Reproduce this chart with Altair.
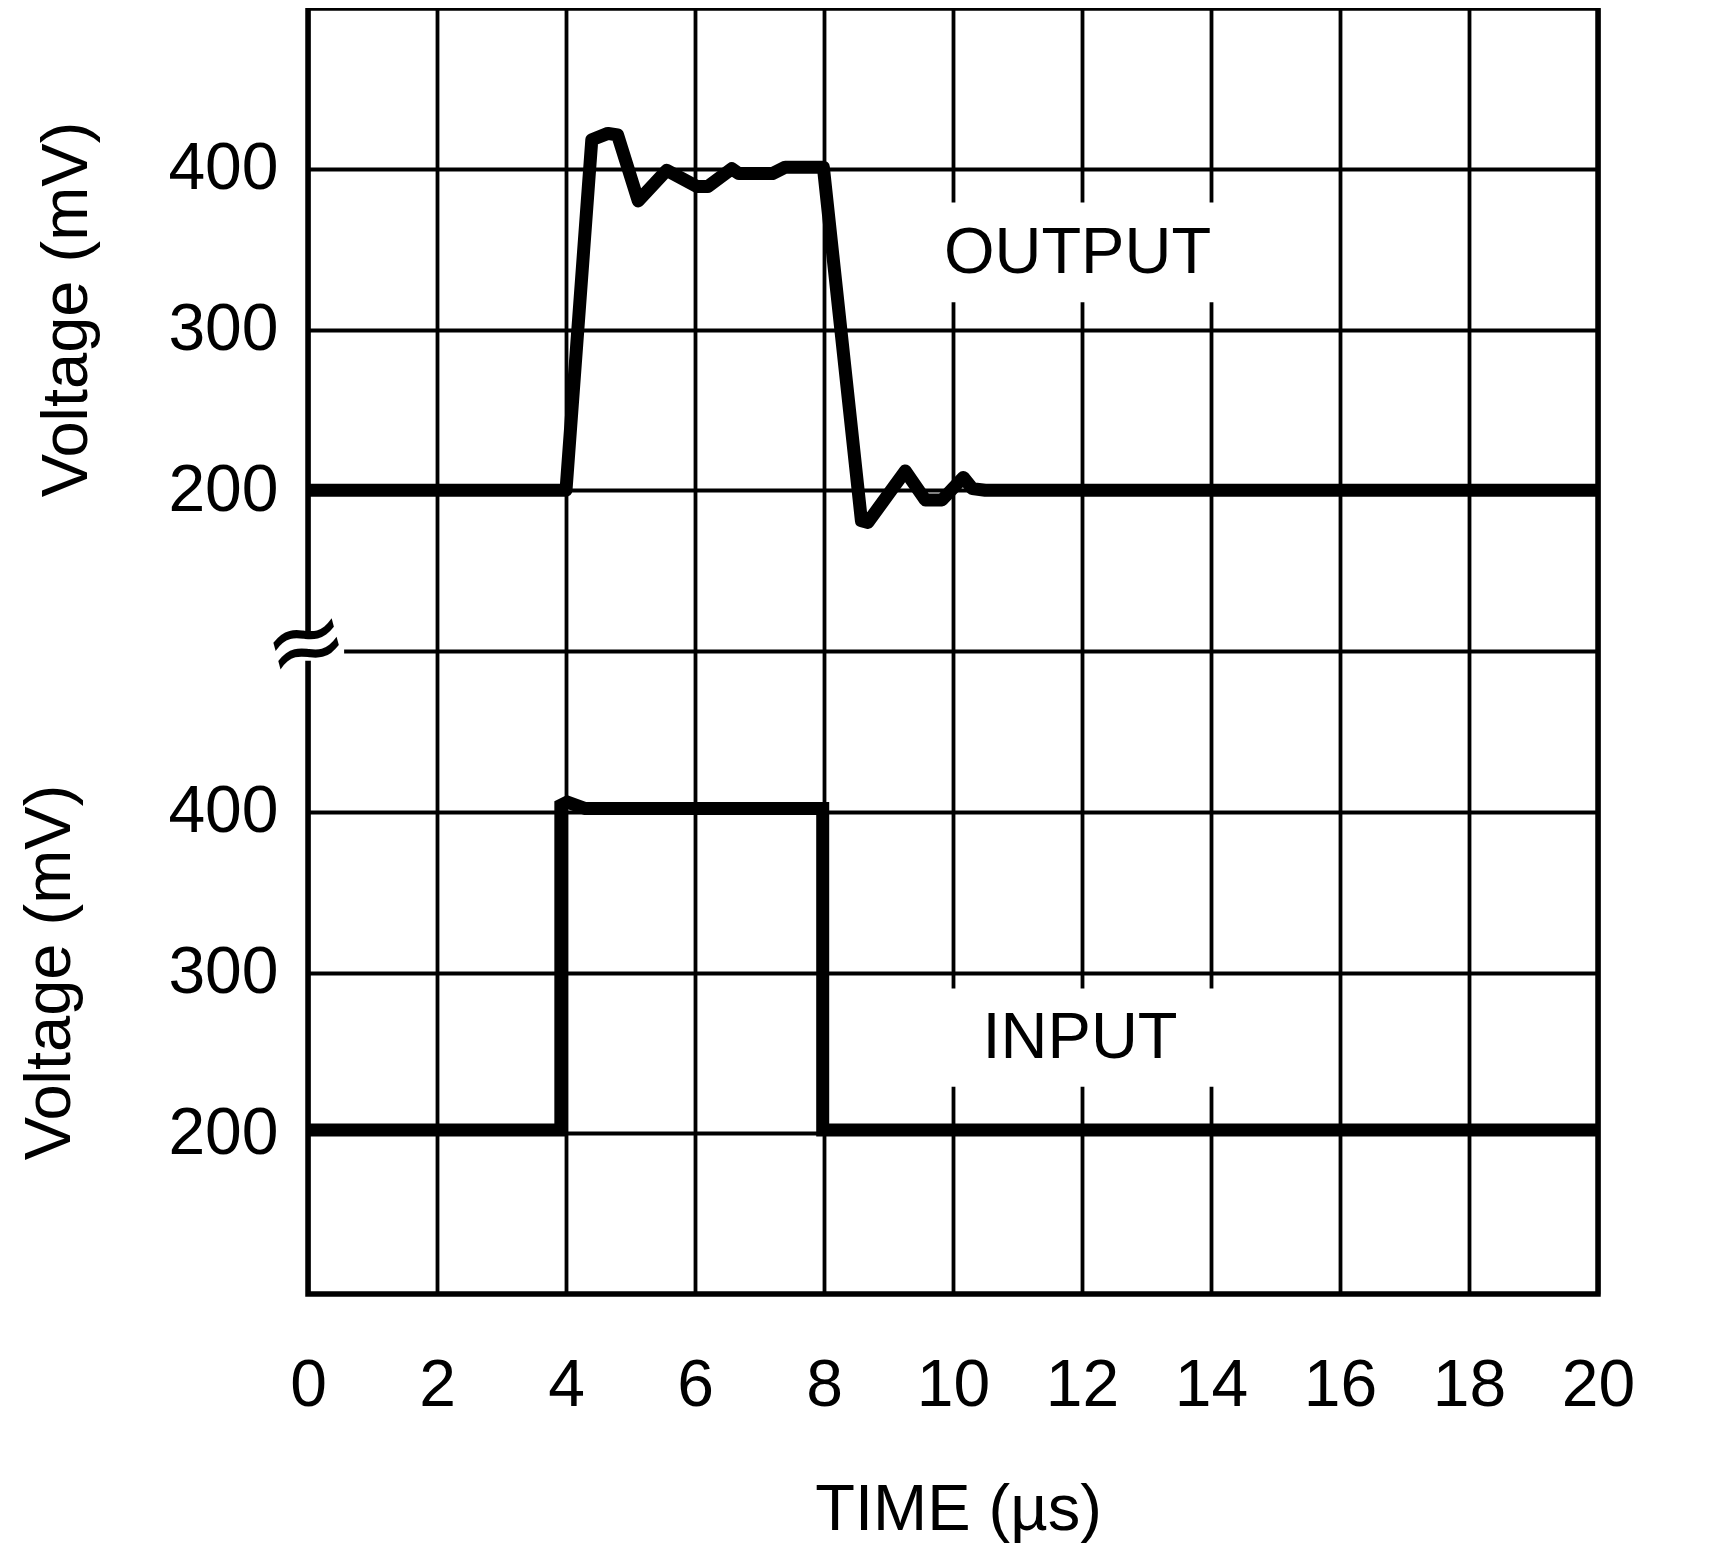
import altair as alt
import pandas as pd

FONT = "Liberation Sans, Arial, sans-serif"

# ---- data ----
time_ticks = [0, 2, 4, 6, 8, 10, 12, 14, 16, 18, 20]

out_t = [0, 4.0, 4.4, 4.65, 4.8, 5.12, 5.56, 6.03, 6.2, 6.57, 6.68, 7.2, 7.4, 7.99,
         8.58, 8.68, 9.26, 9.57, 9.83, 10.16, 10.3, 10.5, 20]
out_v = [200, 200, 418, 422, 421, 380, 399, 389, 389, 400, 397, 397, 401, 401,
         181, 180, 212, 194, 194, 208, 201, 200, 200]

in_t = [0, 3.92, 3.92, 4.02, 4.3, 7.98, 7.98, 20]
in_v = [202, 202, 404, 406, 402, 402, 202, 202]

# both panels share one grid: the upper (OUTPUT) panel sits 300 units up,
# the lower (INPUT) panel 100 units down, so each shows 100..500 mV
TOP_SHIFT = 300
BOT_SHIFT = -100
grid_values = [100, 200, 300, 400, 500, 600, 700]

out_label = ["OUTPUT"]
out_label_t = [11.93]
out_label_v = [335]
out_box = {"x0": [9.7], "x1": [14.3], "y0": [317], "y1": [379]}

in_label = ["INPUT"]
in_label_t = [11.97]
in_label_v = [247]
in_box = {"x0": [9.7], "x1": [14.3], "y0": [229], "y1": [290]}

break_t = [0]
break_v = [100]          # in upper-panel mV (the 100 mV bottom edge)
break_patch = {"x0": [-0.15], "x1": [0.56], "y0": [94], "y1": [108]}

ytitle_text = ["Voltage (mV)"]
ytitle_v = [300]         # centre of the lower panel, in lower-panel mV

# ---- tables ----
df_out = pd.DataFrame({"t": out_t, "v": out_v, "i": list(range(len(out_t)))})
df_in = pd.DataFrame({"t": in_t, "v": in_v, "i": list(range(len(in_t)))})
df_out_lab = pd.DataFrame({"t": out_label_t, "v": out_label_v, "txt": out_label})
df_in_lab = pd.DataFrame({"t": in_label_t, "v": in_label_v, "txt": in_label})
df_out_box = pd.DataFrame(out_box)
df_in_box = pd.DataFrame(in_box)
df_break = pd.DataFrame({"t": break_t, "v": break_v})
df_patch = pd.DataFrame(break_patch)
df_ytitle = pd.DataFrame({"v": ytitle_v, "txt": ytitle_text})

x_scale = alt.Scale(domain=[0, 20], nice=False, zero=False)
y_scale = alt.Scale(domain=[0, 800], nice=False, zero=False)

label_expr = ("datum.value == 100 || datum.value == 500 ? '200' : "
              "datum.value == 200 || datum.value == 600 ? '300' : "
              "datum.value == 300 || datum.value == 700 ? '400' : ''")

x_axis = alt.Axis(values=time_ticks, title="TIME (µs)", grid=True,
                  labelBaseline="alphabetic", labelPadding=111,
                  titleX=650, titleY=235, titleBaseline="alphabetic",
                  titleAlign="center", labelFlush=False)
y_axis = alt.Axis(values=grid_values, labelExpr=label_expr, grid=True,
                  title="Voltage (mV)", titleX=-222, titleY=301, titleAngle=270,
                  titleBaseline="alphabetic", titleAlign="center", labelPadding=30)


def X(field):
    return alt.X(field, scale=x_scale, axis=x_axis)


def Y(field):
    return alt.Y(field, scale=y_scale, axis=y_axis)


def shift(ch, field, amount):
    return ch.transform_calculate(**{field + "_s": f"datum.{field} + ({amount})"})


def shift_box(ch, amount):
    return ch.transform_calculate(y0_s=f"datum.y0 + ({amount})",
                                  y1_s=f"datum.y1 + ({amount})")


# ---- upper (output) panel ----
out_line = shift(alt.Chart(df_out), "v", TOP_SHIFT).mark_line(
    color="black", strokeWidth=13, strokeJoin="round", strokeCap="butt").encode(
    x=X("t:Q"), y=Y("v_s:Q"), order="i:Q")
out_bg = shift_box(alt.Chart(df_out_box), TOP_SHIFT).mark_rect(color="white").encode(
    x=X("x0:Q"), x2="x1:Q", y=Y("y0_s:Q"), y2="y1_s:Q")
out_txt = shift(alt.Chart(df_out_lab), "v", TOP_SHIFT).mark_text(
    font=FONT, fontSize=65, color="black", baseline="alphabetic", align="center").encode(
    x=X("t:Q"), y=Y("v_s:Q"), text="txt:N")
patch = shift_box(alt.Chart(df_patch), TOP_SHIFT).mark_rect(color="white").encode(
    x=X("x0:Q"), x2="x1:Q", y=Y("y0_s:Q"), y2="y1_s:Q")
tilde = shift(alt.Chart(df_break), "v", TOP_SHIFT).mark_text(
    text="≈", font="DejaVu Sans", fontSize=100, angle=345, baseline="middle",
    align="center", color="black", dy=-6).encode(
    x=X("t:Q"), y=Y("v_s:Q"))

# ---- lower (input) panel ----
in_line = shift(alt.Chart(df_in), "v", BOT_SHIFT).mark_line(
    color="black", strokeWidth=13, strokeJoin="miter", strokeCap="butt").encode(
    x=X("t:Q"), y=Y("v_s:Q"), order="i:Q")
in_bg = shift_box(alt.Chart(df_in_box), BOT_SHIFT).mark_rect(color="white").encode(
    x=X("x0:Q"), x2="x1:Q", y=Y("y0_s:Q"), y2="y1_s:Q")
in_txt = shift(alt.Chart(df_in_lab), "v", BOT_SHIFT).mark_text(
    font=FONT, fontSize=65, color="black", baseline="alphabetic", align="center").encode(
    x=X("t:Q"), y=Y("v_s:Q"), text="txt:N")
in_title = shift(alt.Chart(df_ytitle), "v", BOT_SHIFT).mark_text(
    font=FONT, fontSize=65, color="black", baseline="alphabetic", align="center",
    angle=270, dy=-5).encode(
    x=alt.value(-233), y=Y("v_s:Q"), text="txt:N")

chart = alt.layer(out_line, out_bg, out_txt, patch, tilde,
                  in_line, in_bg, in_txt, in_title).properties(
    width=1290, height=1286,
    autosize=alt.AutoSizeParams(type="none"),
    padding={"left": 300, "top": 0, "right": 122, "bottom": 250},
    background="white",
).configure_view(stroke="black", strokeWidth=5.5).configure_axis(
    gridColor="black", gridWidth=3.8, gridOpacity=1,
    domain=False, ticks=False,
    labelFont=FONT, labelFontSize=66, labelColor="black",
    labelFlush=False, labelOverlap=False,
    titleFont=FONT, titleFontSize=65, titleFontWeight="normal", titleColor="black",
    titlePadding=0,
)

chart.save("out.html", embed_options={"renderer": "svg", "actions": False})
